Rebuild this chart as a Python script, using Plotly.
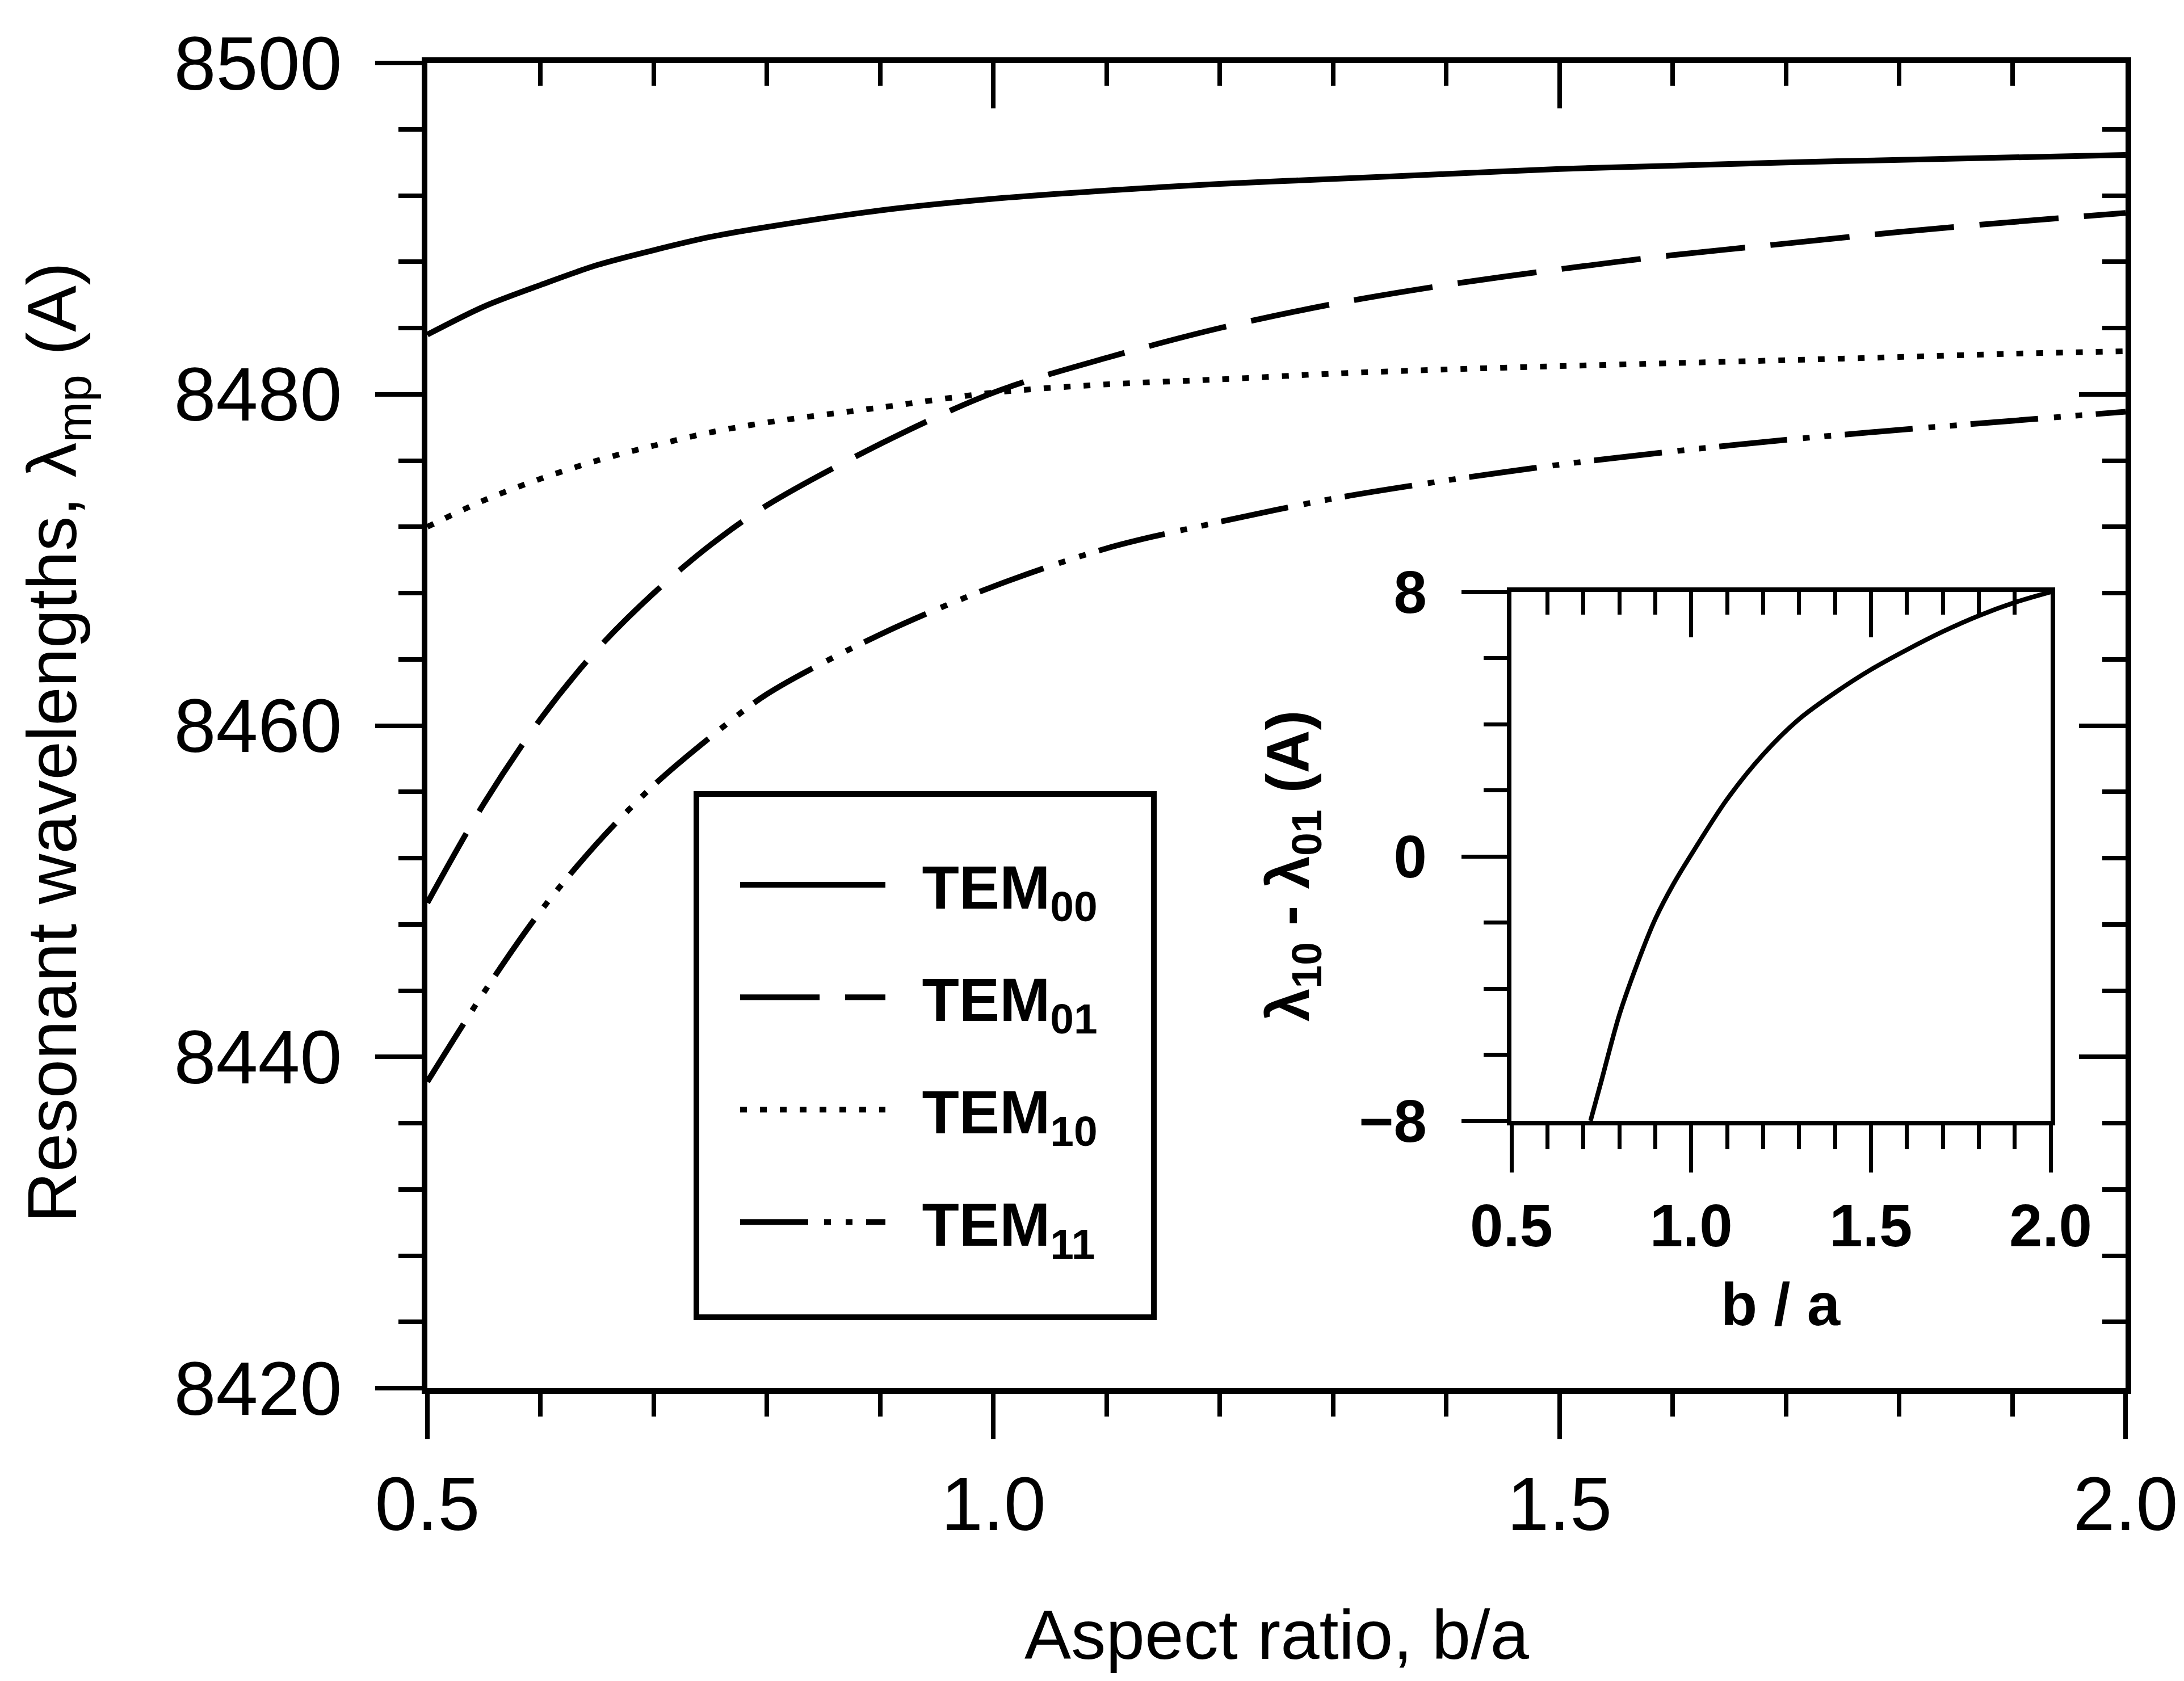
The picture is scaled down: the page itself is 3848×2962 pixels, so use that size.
import plotly.graph_objects as go

# ---------------- data ----------------
aspect = [0.5, 0.55, 0.6, 0.65, 0.7, 0.75, 0.8, 0.9, 1.0, 1.1, 1.2, 1.3, 1.4, 1.5, 1.6, 1.7, 1.8, 1.9, 2.0]
tem00 = [8483.6, 8485.3, 8486.6, 8487.8, 8488.7, 8489.5, 8490.1, 8491.1, 8491.8, 8492.3, 8492.7,
         8493.0, 8493.3, 8493.6, 8493.8, 8494.0, 8494.15, 8494.3, 8494.45]
tem01 = [8449.3, 8455.3, 8460.4, 8464.6, 8468.0, 8470.9, 8473.3, 8477.0, 8480.1, 8482.2, 8484.0,
         8485.45, 8486.6, 8487.55, 8488.4, 8489.1, 8489.8, 8490.4, 8490.95]
tem10 = [8472.0, 8473.6, 8474.9, 8476.0, 8476.9, 8477.7, 8478.3, 8479.2, 8480.1, 8480.6, 8480.9,
         8481.25, 8481.5, 8481.7, 8481.88, 8482.06, 8482.25, 8482.45, 8482.6]
tem11 = [8438.5, 8443.9, 8448.8, 8452.9, 8456.4, 8459.3, 8461.9, 8465.5, 8468.4, 8470.7, 8472.3,
         8473.7, 8474.8, 8475.75, 8476.55, 8477.25, 8477.85, 8478.4, 8478.95]

inset_x = [0.72, 0.75, 0.8, 0.85, 0.9, 0.95, 1.0, 1.1, 1.2, 1.3, 1.4, 1.5, 1.6, 1.7, 1.8, 1.9, 2.0]
inset_diff = [-8.0, -6.8, -4.8, -3.25, -1.9, -0.85, 0.05, 1.73, 3.08, 4.15, 4.95, 5.65, 6.25, 6.8,
              7.28, 7.68, 8.0]

series_names = ["TEM<sub>00</sub>", "TEM<sub>01</sub>", "TEM<sub>10</sub>", "TEM<sub>11</sub>"]

# ---------------- styling ----------------
W, H = 3848, 2962
FONT = "Liberation Sans, Arial, sans-serif"
BLACK = "black"
LW = 10
dashes = ["solid", "140px,45px", "12px,23px", "120px,28px,12px,26px,12px,24px"]
GAP = "\u00a0\u00a0"  # space between legend sample and label

fig = go.Figure()

for i, (name, ys) in enumerate(zip(series_names, [tem00, tem01, tem10, tem11])):
    fig.add_trace(go.Scatter(
        x=aspect, y=ys, mode="lines", name=GAP + name,
        line=dict(color=BLACK, width=LW, dash=dashes[i], shape="spline", smoothing=0.9),
        legendgroup="g%d" % i, xaxis="x", yaxis="y", hoverinfo="skip"))

fig.add_trace(go.Scatter(
    x=inset_x, y=inset_diff, mode="lines", showlegend=False,
    line=dict(color=BLACK, width=8, shape="spline", smoothing=0.9),
    xaxis="x2", yaxis="y2", hoverinfo="skip"))

# helper traces so the mirrored (inside-tick) axes are drawn
fig.add_trace(go.Scatter(x=[], y=[], showlegend=False, xaxis="x3", yaxis="y", hoverinfo="skip"))
fig.add_trace(go.Scatter(x=[], y=[], showlegend=False, xaxis="x", yaxis="y3", hoverinfo="skip"))
fig.add_trace(go.Scatter(x=[], y=[], showlegend=False, xaxis="x4", yaxis="y2", hoverinfo="skip"))

# geometry in pixels
main_l, main_r, main_t, main_b = 745, 3737, 103, 2438
ins_l, ins_r, ins_t, ins_b = 2655, 3605, 1035, 1967
leg_l, leg_r, leg_t, leg_b = 1219, 2025, 1391, 2313

def xd(a, b):
    return [a / W, b / W]

def yd(top, bot):
    return [1 - bot / H, 1 - top / H]

main_tickfont = dict(family=FONT, size=133, color=BLACK)
ins_tickfont = dict(family=FONT, size=105, color=BLACK, weight="bold")

common = dict(showgrid=False, zeroline=False, showline=True, linecolor=BLACK, linewidth=10,
              tickcolor=BLACK, tickwidth=8, automargin=False)
ins_common = {**common, "linewidth": 8, "tickwidth": 7}

fig.update_layout(
    width=W, height=H,
    margin=dict(l=0, r=0, t=0, b=0, pad=0),
    paper_bgcolor="white", plot_bgcolor="white",
    showlegend=True,
    xaxis=dict(domain=xd(main_l, main_r), range=[0.5, 2.0], anchor="y", mirror=True,
               ticks="outside", ticklen=80, tick0=0.5, dtick=0.5, tickformat=".1f",
               minor=dict(ticks="outside", ticklen=40, tickwidth=8, tickcolor=BLACK, dtick=0.1, tick0=0.5),
               tickfont=main_tickfont, ticklabelstandoff=0, **common),
    yaxis=dict(domain=yd(main_t, main_b), range=[8420, 8500], anchor="x", mirror=True,
               ticks="outside", ticklen=82, tick0=8420, dtick=20, tickformat="d",
               minor=dict(ticks="outside", ticklen=41, tickwidth=8, tickcolor=BLACK, dtick=4, tick0=8420),
               tickfont=main_tickfont, ticklabelstandoff=32, **common),
    xaxis3=dict(overlaying="x", side="top", anchor="y", range=[0.5, 2.0], showticklabels=False,
                ticks="inside", ticklen=80, tick0=0.5, dtick=0.5,
                minor=dict(ticks="inside", ticklen=40, tickwidth=8, tickcolor=BLACK, dtick=0.1, tick0=0.5),
                **common),
    yaxis3=dict(overlaying="y", side="right", anchor="x", range=[8420, 8500], showticklabels=False,
                ticks="inside", ticklen=82, tick0=8420, dtick=20,
                minor=dict(ticks="inside", ticklen=41, tickwidth=8, tickcolor=BLACK, dtick=4, tick0=8420),
                **common),
    xaxis2=dict(domain=xd(ins_l, ins_r), range=[0.5, 2.0], anchor="y2", mirror=True,
                ticks="outside", ticklen=83, tick0=0.5, dtick=0.5, tickformat=".1f",
                minor=dict(ticks="outside", ticklen=42, tickwidth=7, tickcolor=BLACK, dtick=0.1, tick0=0.5),
                tickfont=ins_tickfont, ticklabelstandoff=4, **ins_common),
    yaxis2=dict(domain=yd(ins_t, ins_b), range=[-8, 8], anchor="x2", mirror=True,
                ticks="outside", ticklen=80, tick0=-8, dtick=8,
                minor=dict(ticks="outside", ticklen=41, tickwidth=7, tickcolor=BLACK, dtick=2, tick0=-8),
                tickfont=ins_tickfont, ticklabelstandoff=40, **ins_common),
    xaxis4=dict(overlaying="x2", side="top", anchor="y2", range=[0.5, 2.0], showticklabels=False,
                ticks="inside", ticklen=80, tick0=0.5, dtick=0.5,
                minor=dict(ticks="inside", ticklen=40, tickwidth=7, tickcolor=BLACK, dtick=0.1, tick0=0.5),
                **ins_common),
    legend=dict(x=1291 / W, y=1 - 1475 / H, xanchor="left", yanchor="top",
                bgcolor="rgba(0,0,0,0)", borderwidth=0,
                font=dict(family=FONT, size=107, color=BLACK, weight="bold"),
                itemwidth=256, tracegroupgap=56, traceorder="grouped"),
    shapes=[
        dict(type="rect", xref="paper", yref="paper",
             x0=leg_l / W, x1=leg_r / W, y0=1 - leg_b / H, y1=1 - leg_t / H,
             line=dict(color=BLACK, width=10), fillcolor="rgba(0,0,0,0)", layer="above"),
    ],
    annotations=[
        dict(text="Resonant wavelengths, λ<sub>mp</sub> (A)", textangle=-90,
             x=92 / W, y=1 - 1300 / H, xref="paper", yref="paper",
             xanchor="center", yanchor="middle", showarrow=False,
             font=dict(family=FONT, size=123, color=BLACK)),
        dict(text="Aspect ratio, b/a",
             x=(main_l + main_r) / 2 / W, y=1 - 2872 / H, xref="paper", yref="paper",
             xanchor="center", yanchor="middle", showarrow=False,
             font=dict(family=FONT, size=123, color=BLACK)),
        dict(text="λ<sub>10</sub> - λ<sub>01</sub> (A)", textangle=-90,
             x=2270 / W, y=1 - 1518 / H, xref="paper", yref="paper",
             xanchor="center", yanchor="middle", showarrow=False,
             font=dict(family=FONT, size=105, color=BLACK, weight="bold")),
        dict(text="b / a",
             x=(ins_l + ins_r) / 2 / W, y=1 - 2290 / H, xref="paper", yref="paper",
             xanchor="center", yanchor="middle", showarrow=False,
             font=dict(family=FONT, size=105, color=BLACK, weight="bold")),
    ],
)

fig.write_html("out.html")
